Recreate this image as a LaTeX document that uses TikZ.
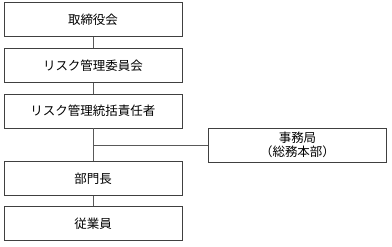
\documentclass[tikz,border=0pt]{standalone}
\usepackage{fontspec}
\newfontfamily\cjk{Noto Sans CJK JP}
\begin{document}
\begin{tikzpicture}[x=1pt,y=-1pt,
  orgbox/.style={draw=black!75,line width=0.9pt,minimum width=178pt,minimum height=34pt,inner sep=0pt,font=\cjk\fontsize{12.5}{14}\selectfont,align=center},
  link/.style={draw=black!65,line width=0.9pt}]
\useasboundingbox (0,0) rectangle (392,247);
\node[orgbox] (a) at (93,19.5) {取締役会};
\node[orgbox] (b) at (93,65.5) {リスク管理委員会};
\node[orgbox] (c) at (93,111) {リスク管理統括責任者};
\node[orgbox,minimum height=34pt,font=\cjk\fontsize{12.5}{14}\selectfont] (d) at (297.5,145) {事務局\\（総務本部）};
\node[orgbox] (e) at (93,178.5) {部門長};
\node[orgbox] (f) at (93,223.5) {従業員};
\coordinate (j) at (93,145);
\draw[link] (a) -- (b);
\draw[link] (b) -- (c);
\draw[link] (c) -- (e);
\draw[link] (j) -- (d);
\draw[link] (e) -- (f);
\end{tikzpicture}
\end{document}
